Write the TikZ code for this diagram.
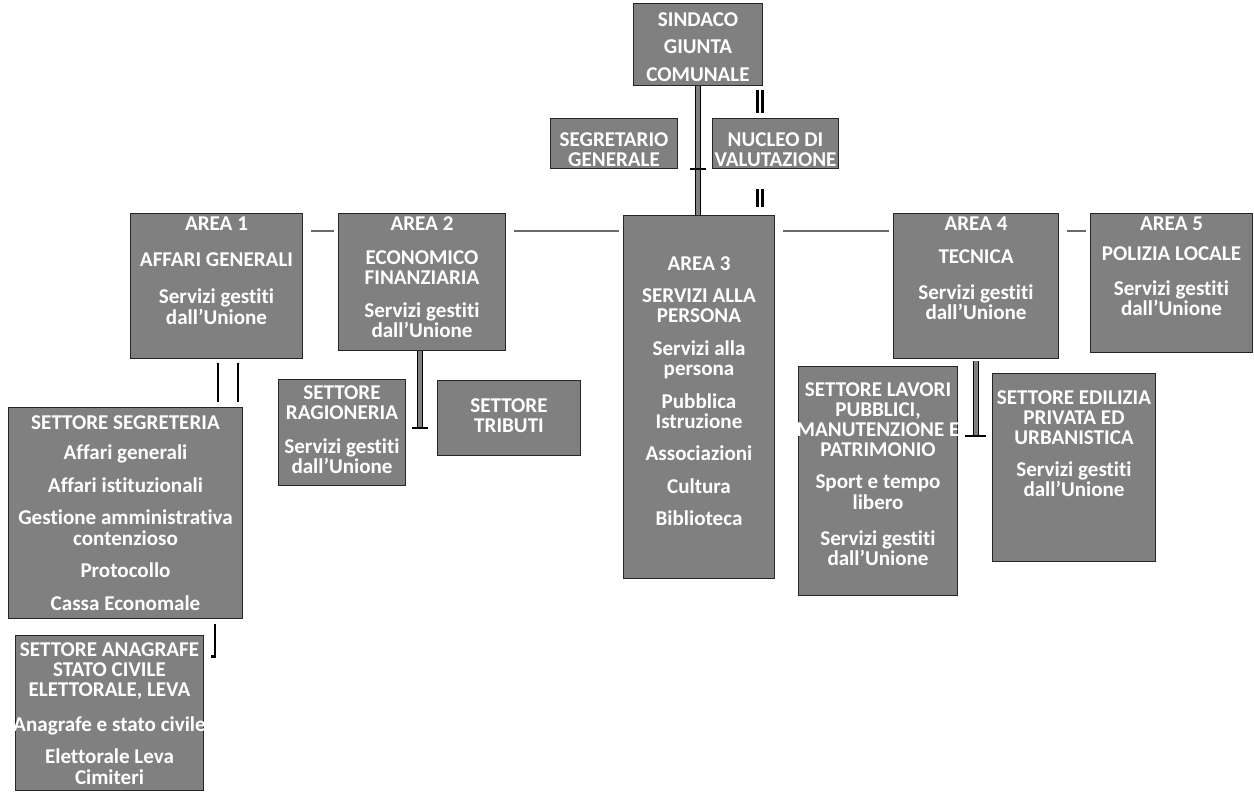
\documentclass[tikz,border=0pt]{standalone}
\usepackage{fontspec}
\setmainfont{Carlito}[Ligatures={TeX,NoCommon}]
\usetikzlibrary{positioning,calc}
\newcommand{\pgap}[1][7pt]{\\[#1]}

\begin{document}
\begin{tikzpicture}[x=0.02cm, y=-0.02cm, font=\bfseries\fontsize{12}{11.5}\selectfont]
	\definecolor{boxgray}{RGB}{128,128,128}
	\definecolor{linegray}{RGB}{105,105,105}
	\tikzset{box/.style={draw=black!85,fill=boxgray,line width=0.6pt,inner sep=0pt,anchor=north west}}
	\tikzset{txt/.style={text=white,align=center,inner sep=0pt}}
	\tikzset{hl/.style={draw=linegray,line width=1.6pt,shorten <=0.16cm,shorten >=0.09cm}}
	\tikzset{trunk/.style={draw=black,line width=0.6pt,double=boxgray,double distance=2.4pt}}
	\tikzset{pair/.style={draw=black,line width=1.3pt,double=white,double distance=1.4pt}}
	\tikzset{vbar/.style={draw=black,line width=1.7pt}}
	\tikzset{tbar/.style={draw=black,line width=1pt}}

	\useasboundingbox (0,0) rectangle (1254,796);

	% Sindaco and staff
	\node[box,minimum width=2.58cm,minimum height=1.64cm] (sindaco) at (633,3) {};
	\node[txt,below=0.18cm] (sindacot) at (sindaco.north) {SINDACO\pgap[4.3pt]GIUNTA\pgap[4.3pt]COMUNALE};

	\node[box,minimum width=2.54cm,minimum height=1cm] (segretario) at (550,118) {};
	\node[txt,below=0.28cm] (segretariot) at (segretario.north) {SEGRETARIO\\GENERALE};

	\node[box,minimum width=2.52cm,minimum height=1cm] (nucleo) at (712,118) {};
	\node[txt,below=0.28cm] (nucleot) at (nucleo.north) {NUCLEO DI\\VALUTAZIONE};

	% Aree
	\node[box,minimum width=3.44cm,minimum height=2.9cm] (area1) at (130,213) {};
	\node[txt,below=0.06cm] (area1t) at (area1.north) {AREA 1\pgap[9.5pt]AFFARI GENERALI\pgap[9.5pt]Servizi gestiti\\dall'Unione};

	\node[box,minimum width=3.34cm,minimum height=2.74cm] (area2) at (338,213) {};
	\node[txt,below=0.06cm] (area2t) at (area2.north) {AREA 2\pgap[8pt]ECONOMICO\\FINANZIARIA\pgap[7pt]Servizi gestiti\\dall'Unione};

	\node[box,minimum width=3.02cm,minimum height=7.26cm] (area3) at (623,215) {};
	\node[txt,below=0.82cm] (area3t) at (area3.north) {AREA 3\pgap SERVIZI ALLA\\PERSONA\pgap Servizi alla\\persona\pgap Pubblica\\Istruzione\pgap Associazioni\pgap Cultura\pgap Biblioteca};

	\node[box,minimum width=3.3cm,minimum height=2.9cm] (area4) at (893,213) {};
	\node[txt,below=0.06cm] (area4t) at (area4.north) {AREA 4\pgap[7.4pt]TECNICA\pgap[9pt]Servizi gestiti\\dall'Unione};

	\node[box,minimum width=3.24cm,minimum height=2.78cm] (area5) at (1090,213) {};
	\node[txt,below=0.06cm] (area5t) at (area5.north) {AREA 5\pgap[5.7pt]POLIZIA LOCALE\pgap[8.5pt]Servizi gestiti\\dall'Unione};

	% Settori
	\node[box,minimum width=4.68cm,minimum height=4.22cm] (segreteria) at (8,407) {};
	\node[txt,below=0.16cm] (segreteriat) at (segreteria.north) {SETTORE SEGRETERIA\pgap[6pt]Affari generali\pgap Affari istituzionali\pgap Gestione amministrativa\\contenzioso\pgap Protocollo\pgap Cassa Economale};

	\node[box,minimum width=3.76cm,minimum height=3.1cm] (anagrafe) at (15,635) {};
	\node[txt,below=0.14cm] (anagrafet) at (anagrafe.north) {SETTORE ANAGRAFE\\STATO CIVILE\\ELETTORALE, LEVA\pgap[8.5pt]Anagrafe e stato civile\pgap[6.8pt]Elettorale Leva\\Cimiteri};

	\node[box,minimum width=2.54cm,minimum height=2.12cm] (ragioneria) at (278,379) {};
	\node[txt,below=0.12cm] (ragioneriat) at (ragioneria.north) {SETTORE\\RAGIONERIA\pgap[8pt]Servizi gestiti\\dall'Unione};

	\node[box,minimum width=2.86cm,minimum height=1.5cm] (tributi) at (437,380) {};
	\node[txt,below=0.36cm] (tributit) at (tributi.north) {SETTORE\\TRIBUTI};

	\node[box,minimum width=3.18cm,minimum height=4.58cm] (lavori) at (798,366) {};
	\node[txt,below=0.32cm] (lavorit) at (lavori.north) {SETTORE LAVORI\\PUBBLICI,\\MANUTENZIONE E\\PATRIMONIO\pgap[6.8pt]Sport e tempo\\libero\pgap[9pt]Servizi gestiti\\dall'Unione};

	\node[box,minimum width=3.26cm,minimum height=3.76cm] (edilizia) at (992,373) {};
	\node[txt,below=0.34cm] (ediliziat) at (edilizia.north) {SETTORE EDILIZIA\\PRIVATA ED\\URBANISTICA\pgap[6.8pt]Servizi gestiti\\dall'Unione};

	% Links from the top
	\draw[trunk] (sindaco.south) -- (sindaco.south |- area3.north);
	\coordinate (segtick) at (sindaco.south |- segretario.south);
	\draw[tbar] ([xshift=-0.16cm]segtick) -- ([xshift=0.16cm]segtick);
	\coordinate (nx) at (760,0);
	\draw[pair,shorten <=0.08cm,shorten >=0.1cm] (nx |- sindaco.south) -- (nx |- nucleo.north);
	\draw[pair,shorten <=0.4cm,shorten >=0.16cm] (nx |- nucleo.south) -- (nx |- area3.north);

	% Links between the aree
	\draw[hl] ([yshift=-0.36cm]area1.north east) -- ([yshift=-0.36cm]area2.north west);
	\draw[hl] ([yshift=-0.36cm]area2.north east) -- ([yshift=-0.36cm]area2.north east -| area3.west);
	\draw[hl] ([yshift=-0.36cm]area4.north west -| area3.east) -- ([yshift=-0.36cm]area4.north west);
	\draw[hl] ([yshift=-0.36cm]area4.north east) -- ([yshift=-0.36cm]area5.north west);

	% Links down to the settori
	\coordinate (sa) at (218,0);
	\coordinate (sb) at (238,0);
	\draw[vbar,shorten <=0.08cm,shorten >=0.1cm] (sa |- area1.south) -- (sa |- segreteria.north);
	\draw[vbar,shorten <=0.08cm,shorten >=0.1cm] (sb |- area1.south) -- (sb |- segreteria.north);
	\coordinate (sc) at (215,0);
	\draw[vbar,shorten <=0.1cm] (sc |- segreteria.south) -- ([yshift=-0.42cm]sc |- anagrafe.north) -- ++(-4,0);

	\coordinate (rt) at (420,428);
	\draw[trunk] (rt |- area2.south) -- (rt);
	\draw[tbar] ([xshift=-0.16cm]rt) -- ([xshift=0.16cm]rt);

	\coordinate (lt) at (976,436);
	\draw[trunk,shorten <=0.04cm] (lt |- area4.south) -- (lt);
	\draw[tbar] ([xshift=-0.22cm]lt) -- ([xshift=0.2cm]lt);
\end{tikzpicture}
\end{document}
